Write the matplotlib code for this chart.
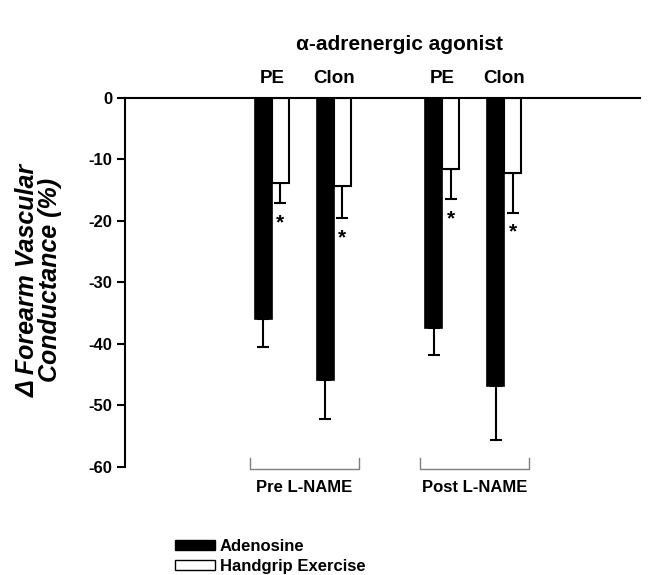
import matplotlib
matplotlib.use("Agg")
import matplotlib.pyplot as plt
import numpy as np
from matplotlib.patches import Patch

plt.rcParams['font.family'] = ['Liberation Sans', 'DejaVu Sans']
plt.rcParams['font.weight'] = 'bold'

# data (% change in forearm vascular conductance)
drugs = ["PE", "Clon", "PE", "Clon"]
groups = ["Pre L-NAME", "Post L-NAME"]
adenosine = [-36.0, -45.9, -37.4, -46.9]
adenosine_err = [4.5, 6.3, 4.5, 8.7]
handgrip = [-13.9, -14.4, -11.7, -12.2]
handgrip_err = [3.2, 5.2, 4.8, 6.5]
yticks = [0, -10, -20, -30, -40, -50, -60]

fig = plt.figure(figsize=(6.48, 5.75), dpi=100)
ax = fig.add_axes([125 / 648, 1 - 466.7 / 575, (640 - 125) / 648, (466.7 - 97.5) / 575])

x = np.array([0, 1, 2.75, 3.75])
w = 0.274

ax.bar(x - w / 2, adenosine, w, color='black', edgecolor='black', linewidth=1.2, zorder=2)
ax.bar(x + w / 2, handgrip, w, color='white', edgecolor='black', linewidth=1.5, zorder=2)
ax.errorbar(x - w / 2, adenosine, yerr=[adenosine_err, [0] * 4], fmt='none',
            ecolor='black', elinewidth=1.5, capsize=4, capthick=1.5, zorder=1)
ax.errorbar(x + w / 2, handgrip, yerr=[handgrip_err, [0] * 4], fmt='none',
            ecolor='black', elinewidth=1.5, capsize=4, capthick=1.5, zorder=1)

# significance stars under handgrip bars
for xi, v, e in zip(x, handgrip, handgrip_err):
    ax.text(xi + w / 2, v - e - 3.2, "*", ha='center', va='center', fontsize=15, fontweight='bold')

# drug labels above the zero line
for xi, d in zip(x, drugs):
    ax.text(xi, 3.1, d, ha='center', va='center', fontsize=13.5, fontweight='bold', clip_on=False)

# group brackets under the axis
for gi, g in enumerate(groups):
    x0 = x[2 * gi] - 0.36
    x1 = x[2 * gi + 1] + 0.40
    ax.plot([x0, x0, x1, x1], [-58.6, -60.45, -60.45, -58.6], color='#7f7f7f', lw=1, clip_on=False)
    ax.text((x0 + x1) / 2, -63.4, g, ha='center', va='center', fontsize=12, fontweight='bold', clip_on=False)

ax.set_xlim(-2.37, 5.94)
ax.set_ylim(-60, 0)
ax.set_yticks(yticks)
ax.set_yticklabels([str(t) for t in yticks], fontsize=12, fontweight='bold')
ax.set_xticks([])
ax.tick_params(axis='y', direction='out', length=6, width=1.5, pad=3)
ax.spines['right'].set_visible(False)
ax.spines['bottom'].set_visible(False)
ax.spines['left'].set_linewidth(1.5)
ax.spines['top'].set_linewidth(1.5)

fig.text(39 / 648, 1 - 280 / 575, "\u0394 Forearm Vascular\nConductance (%)", rotation=90,
         ha='center', va='center', multialignment='center', fontsize=18, fontweight='bold',
         fontstyle='italic', linespacing=0.9)

fig.text(400 / 648, 1 - 45 / 575, "\u03b1-adrenergic agonist", ha='center', va='center',
         fontsize=15, fontweight='bold')

handles = [Patch(facecolor='black', edgecolor='black', linewidth=1),
           Patch(facecolor='white', edgecolor='black', linewidth=1)]
fig.legend(handles, ["Adenosine", "Handgrip Exercise"], loc='upper left',
           bbox_to_anchor=(175 / 648, 1 - 539 / 575), frameon=False, borderpad=0,
           borderaxespad=0, handlelength=2.4, handleheight=0.6, handletextpad=0.3,
           labelspacing=0.3, prop={'weight': 'bold', 'size': 12})

fig.savefig("out.png", dpi=100)
